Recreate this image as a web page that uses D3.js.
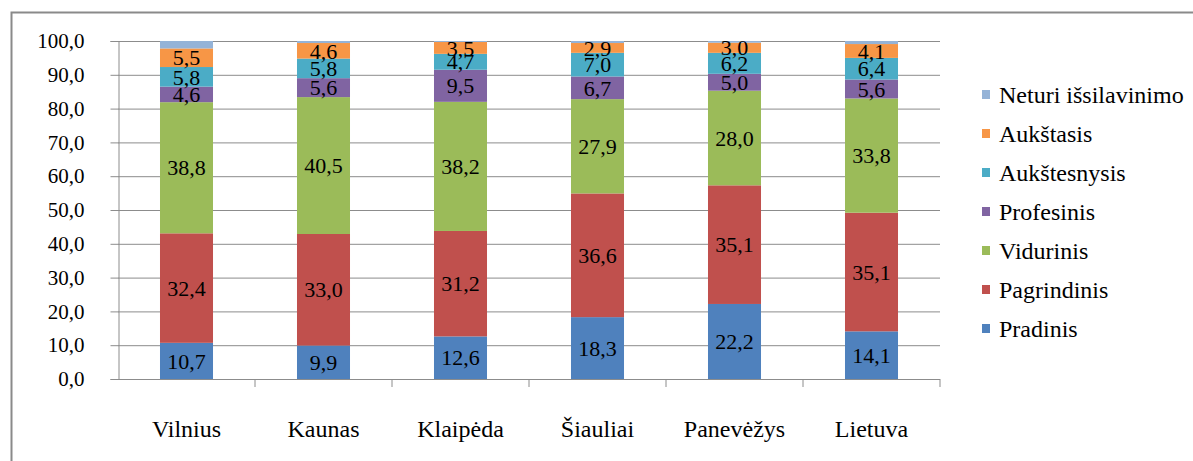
<!DOCTYPE html>
<html>
<head>
<meta charset="utf-8">
<script src="https://cdn.jsdelivr.net/npm/d3@7"></script>
</head>
<body style="margin:0; background:#fff">
<svg width="1193" height="461"></svg>
<script>
var cities = ["Vilnius", "Kaunas", "Klaipėda", "Šiauliai", "Panevėžys", "Lietuva"];
var levels = ["Pradinis", "Pagrindinis", "Vidurinis", "Profesinis", "Aukštesnysis", "Aukštasis", "Neturi išsilavinimo"];

// values per level, one per city (percent)
var pradinis     = [10.7,  9.9, 12.6, 18.3, 22.2, 14.1];
var pagrindinis  = [32.4, 33.0, 31.2, 36.6, 35.1, 35.1];
var vidurinis    = [38.8, 40.5, 38.2, 27.9, 28.0, 33.8];
var profesinis   = [ 4.6,  5.6,  9.5,  6.7,  5.0,  5.6];
var aukstesnysis = [ 5.8,  5.8,  4.7,  7.0,  6.2,  6.4];
var aukstasis    = [ 5.5,  4.6,  3.5,  2.9,  3.0,  4.1];
var neturi       = [ 2.2,  0.6,  0.3,  0.6,  0.5,  0.9];

var yTicks = [0, 10, 20, 30, 40, 50, 60, 70, 80, 90, 100];
var colors = ["#4F81BD", "#C0504D", "#9BBB59", "#8064A2", "#4BACC6", "#F79646", "#95B3D7"];

var series = [pradinis, pagrindinis, vidurinis, profesinis, aukstesnysis, aukstasis, neturi];

var rows = cities.map(function(c, i) {
  var r = {city: c};
  levels.forEach(function(l, j) { r[l] = series[j][i]; });
  return r;
});

var FONT = "Liberation Serif";
var svg = d3.select("svg");

// outer chart frame
svg.append("rect")
  .attr("x", 11.5).attr("y", 12.5)
  .attr("width", 1200).attr("height", 470)
  .style("fill", "none")
  .style("stroke", "#8a8a8a")
  .style("stroke-width", 2);

var x = d3.scaleBand().domain(cities).range([118, 940]).paddingInner(0.613).paddingOuter(0.3065),
    y = d3.scaleLinear().domain([0, 100]).range([379, 41]);

// gridlines
svg.append("g")
  .selectAll("line")
  .data(yTicks.slice(1))
  .enter().append("line")
    .attr("x1", 118).attr("x2", 940)
    .attr("y1", function(d) { return y(d) + 0.5; })
    .attr("y2", function(d) { return y(d) + 0.5; })
    .style("stroke", "#8c8c8c")
    .style("stroke-width", 1);

var stack = d3.stack().keys(levels)(rows);

var layer = svg.selectAll(".layer")
  .data(stack)
  .enter().append("g")
    .attr("class", "layer")
    .style("fill", function(d, i) { return colors[i]; });

layer.selectAll("rect")
  .data(function(d) { return d; })
  .enter().append("rect")
    .attr("x", function(d) { return x(d.data.city); })
    .attr("width", x.bandwidth())
    .attr("y", function(d) { return y(d[1]); })
    .attr("height", function(d) { return y(d[0]) - y(d[1]); });

// data labels (not for the last, thin series)
stack.slice(0, 6).forEach(function(s) {
  svg.append("g").selectAll("text")
    .data(s)
    .enter().append("text")
      .attr("x", function(d) { return x(d.data.city) + x.bandwidth() / 2; })
      .attr("y", function(d) { return (y(d[0]) + y(d[1])) / 2; })
      .attr("dy", "0.35em")
      .attr("text-anchor", "middle")
      .attr("font-family", FONT)
      .attr("font-size", 22)
      .text(function(d) { return (d[1] - d[0]).toFixed(1).replace(".", ","); });
});

// y axis
var yAxis = svg.append("g")
  .attr("transform", "translate(118.5,0)")
  .call(d3.axisLeft(y).tickValues(yTicks).tickSize(8).tickPadding(26)
    .tickFormat(function(d) { return d.toFixed(1).replace(".", ","); }));
yAxis.attr("font-family", FONT).attr("font-size", 21);
yAxis.select(".domain").style("stroke", "#8c8c8c");
yAxis.selectAll(".tick line").style("stroke", "#8c8c8c");
yAxis.selectAll("text").attr("fill", "#000");

// x axis with ticks between categories
svg.append("line")
  .attr("x1", 118).attr("x2", 940)
  .attr("y1", 379.5).attr("y2", 379.5)
  .style("stroke", "#8c8c8c");
svg.append("g").selectAll("line")
  .data(cities)
  .enter().append("line")
    .attr("x1", function(d) { return x(d) + x.bandwidth() / 2 + x.step() / 2; })
    .attr("x2", function(d) { return x(d) + x.bandwidth() / 2 + x.step() / 2; })
    .attr("y1", 379).attr("y2", 387)
    .style("stroke", "#8c8c8c");
svg.append("g").selectAll("text")
  .data(cities)
  .enter().append("text")
    .attr("x", function(d) { return x(d) + x.bandwidth() / 2; })
    .attr("y", 437)
    .attr("text-anchor", "middle")
    .attr("font-family", FONT)
    .attr("font-size", 24)
    .text(function(d) { return d; });

// legend, top item is the last series
var legend = svg.append("g").selectAll("g")
  .data(levels.slice().reverse())
  .enter().append("g")
    .attr("transform", function(d, i) { return "translate(982," + (95 + i * 39) + ")"; });
legend.append("rect")
  .attr("x", 0).attr("y", -5)
  .attr("width", 8).attr("height", 9)
  .style("fill", function(d) { return colors[levels.indexOf(d)]; });
legend.append("text")
  .attr("x", 17)
  .attr("dy", "0.35em")
  .attr("font-family", FONT)
  .attr("font-size", 24)
  .text(function(d) { return d; });
</script>
</body>
</html>
